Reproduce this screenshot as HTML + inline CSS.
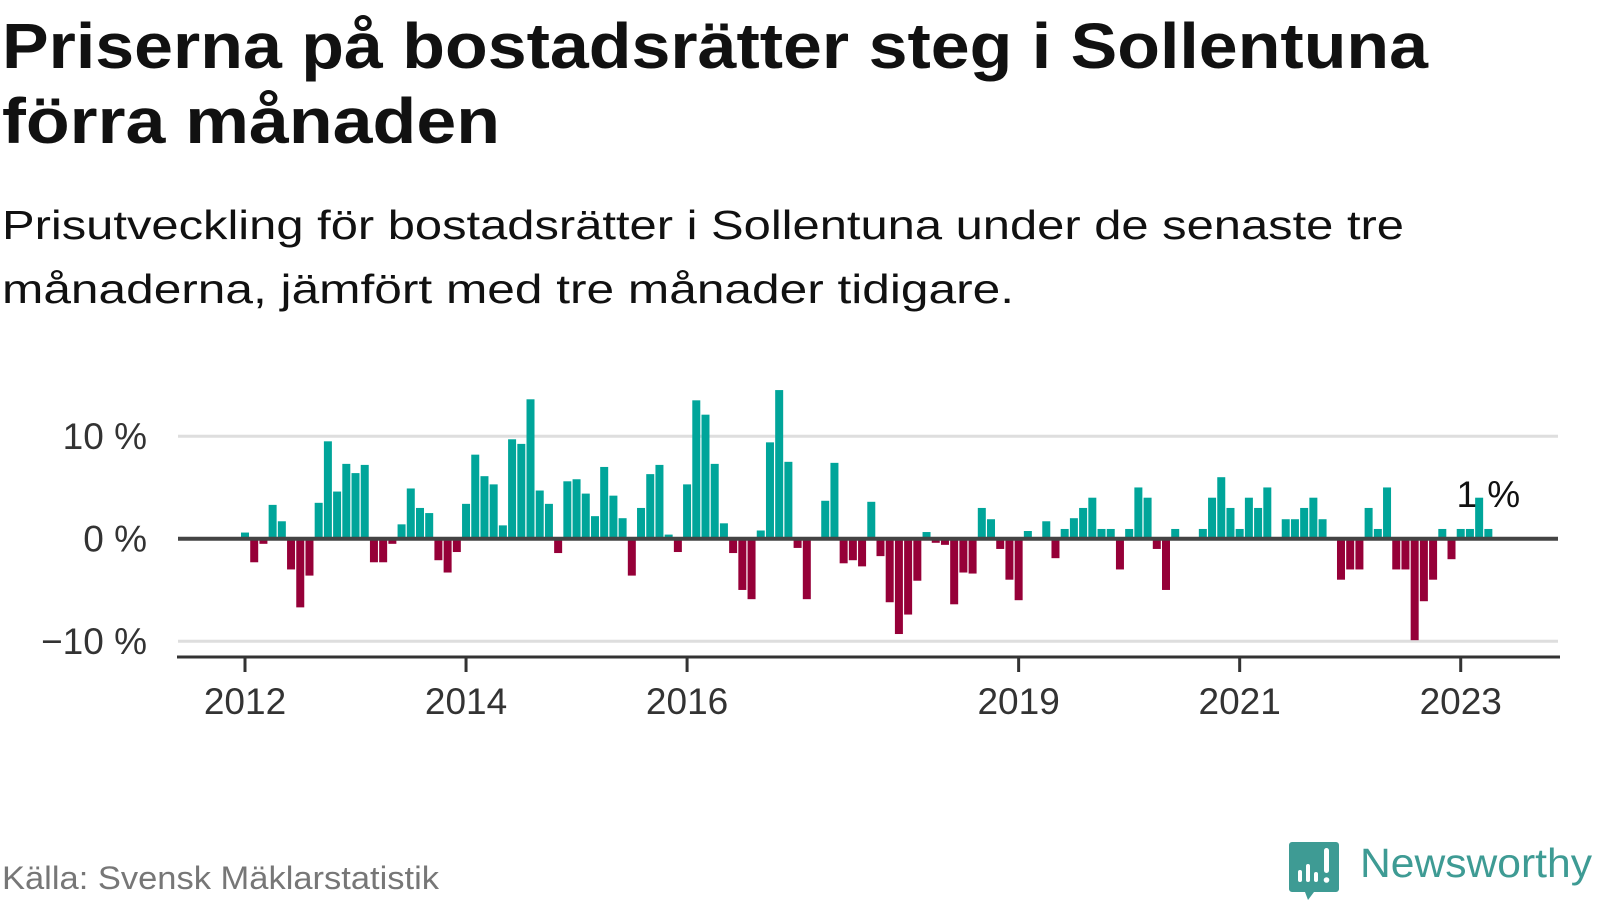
<!DOCTYPE html>
<html><head><meta charset="utf-8"><style>
html,body{margin:0;padding:0;background:#fff;}
svg{display:block;}
text{font-family:"Liberation Sans",sans-serif;}
</style></head><body>
<svg id="chart" width="1600" height="900" viewBox="0 0 1600 900">
<text x="2" y="68" font-size="64" font-weight="bold" fill="#111" textLength="1426" lengthAdjust="spacingAndGlyphs">Priserna på bostadsrätter steg i Sollentuna</text>
<text x="2" y="143" font-size="64" font-weight="bold" fill="#111" textLength="498" lengthAdjust="spacingAndGlyphs">förra månaden</text>
<text x="2" y="239" font-size="41" fill="#111" textLength="1402" lengthAdjust="spacingAndGlyphs">Prisutveckling för bostadsrätter i Sollentuna under de senaste tre</text>
<text x="2" y="303" font-size="41" fill="#111" textLength="1012" lengthAdjust="spacingAndGlyphs">månaderna, jämfört med tre månader tidigare.</text>
<g id="grid"></g>
<g id="bars"></g>
<g id="axes"></g>
<text x="2" y="889" font-size="32" fill="#777" textLength="437" lengthAdjust="spacingAndGlyphs">Källa: Svensk Mäklarstatistik</text>
<g>
<path d="M1292 842 h44 a3 3 0 0 1 3 3 v44 a3 3 0 0 1 -3 3 h-22 l-6 8 l-3 -8 h-13 a3 3 0 0 1 -3 -3 v-44 a3 3 0 0 1 3 -3z" fill="#3e9b94"/>
<rect x="1298" y="870" width="4" height="12" rx="2" fill="#fff"/>
<rect x="1306" y="864" width="4" height="18" rx="2" fill="#fff"/>
<rect x="1314" y="872" width="4" height="10" rx="2" fill="#fff"/>
<rect x="1324" y="848" width="5" height="25" rx="2.5" fill="#fff"/>
<circle cx="1326.5" cy="880" r="2.8" fill="#fff"/>
<text x="1360" y="877" font-size="41" fill="#3e9b94" textLength="232" lengthAdjust="spacingAndGlyphs">Newsworthy</text>
</g>
</svg>
<script>
const values = [0.6,-2.3,-0.5,3.3,1.7,-3.0,-6.7,-3.6,3.5,9.5,4.6,7.3,6.4,7.2,-2.3,-2.3,-0.5,1.4,4.9,3.0,2.5,-2.1,-3.3,-1.3,3.4,8.2,6.1,5.3,1.3,9.7,9.25,13.6,4.7,3.4,-1.4,5.6,
5.8,4.4,2.2,7.0,4.2,2.0,-3.6,3.0,6.3,7.2,0.4,-1.3,5.3,13.5,12.1,7.3,1.5,-1.4,-5.0,-5.9,0.8,9.4,14.5,7.5,-0.9,-5.9,0,3.7,7.4,-2.4,-2.1,-2.7,3.6,-1.7,-6.2,-9.3,
-7.4,-4.1,0.65,-0.4,-0.6,-6.4,-3.3,-3.4,3.0,1.9,-1.0,-4.0,-6.0,0.75,0,1.7,-1.9,0.95,2.0,3.0,4.0,0.95,0.95,-3.0,0.95,5.0,4.0,-1.0,-5.0,0.95,0,0,0.95,4.0,6.0,3.0,
0.95,4.0,3.0,5.0,0,1.9,1.9,3.0,4.0,1.9,0,-4.0,-3.0,-3.0,3.0,0.95,5.0,-3.0,-3.0,-9.9,-6.1,-4.0,0.95,-2.0,0.95,0.95,4.0,0.95];
const startYear = 2012;
const xTickYears = [2012,2014,2016,2019,2021,2023];
const yTicks = [10,0,-10];
const yTickLabels = ["10 %","0 %","\u221210 %"];
const lastLabel = "1 %";

const NS = "http://www.w3.org/2000/svg";
const x0 = 245, step = 9.21, barW = 8;
const y0 = 538.7, pxPer = 10.25;
function x(i){ return x0 + i*step; }
function y(v){ return y0 - v*pxPer; }
function mk(tag, attrs, parent){ const e=document.createElementNS(NS,tag); for(const k in attrs) e.setAttribute(k,attrs[k]); parent.appendChild(e); return e; }

const grid=document.getElementById('grid'), bars=document.getElementById('bars'), axes=document.getElementById('axes');
yTicks.forEach((t,k)=>{
  if(t!==0){
    const g=mk('line',{x1:178,x2:1558,y1:y(t),y2:y(t),stroke:'#dedede','stroke-width':3},grid);
    
    
  }
  const lb=mk('text',{x:147,y:y(t)+13,'font-size':37,fill:'#333','text-anchor':'end'},axes);
  lb.textContent=yTickLabels[k];
  
  
});
values.forEach((v,i)=>{
  if(v===0) return;
  const top=Math.min(y(v),y0), h=Math.abs(y(v)-y0);
  const r=mk('rect',{x:x(i)-barW/2,y:top,width:barW,height:h,fill:v>0?'#00a59a':'#960038'},bars);
  
  
});
const zl=mk('line',{x1:178,x2:1558,y1:y0,y2:y0,stroke:'#444','stroke-width':4},axes);


const ax=mk('line',{x1:177,x2:1560,y1:657,y2:657,stroke:'#333','stroke-width':3},axes);


xTickYears.forEach(yr=>{
  const xi=x((yr-startYear)*12);
  const tk=mk('line',{x1:xi,x2:xi,y1:657,y2:672,stroke:'#333','stroke-width':3},axes);
  
  
  const t=mk('text',{x:xi,y:714,'font-size':37,fill:'#333','text-anchor':'middle'},axes);
  t.textContent=String(yr);
  
  
});
const li=values.length-1;
const ll=mk('text',{x:x(li),y:507,'font-size':37,fill:'#111','text-anchor':'middle'},axes);
ll.textContent=lastLabel;


</script>
</body></html>
